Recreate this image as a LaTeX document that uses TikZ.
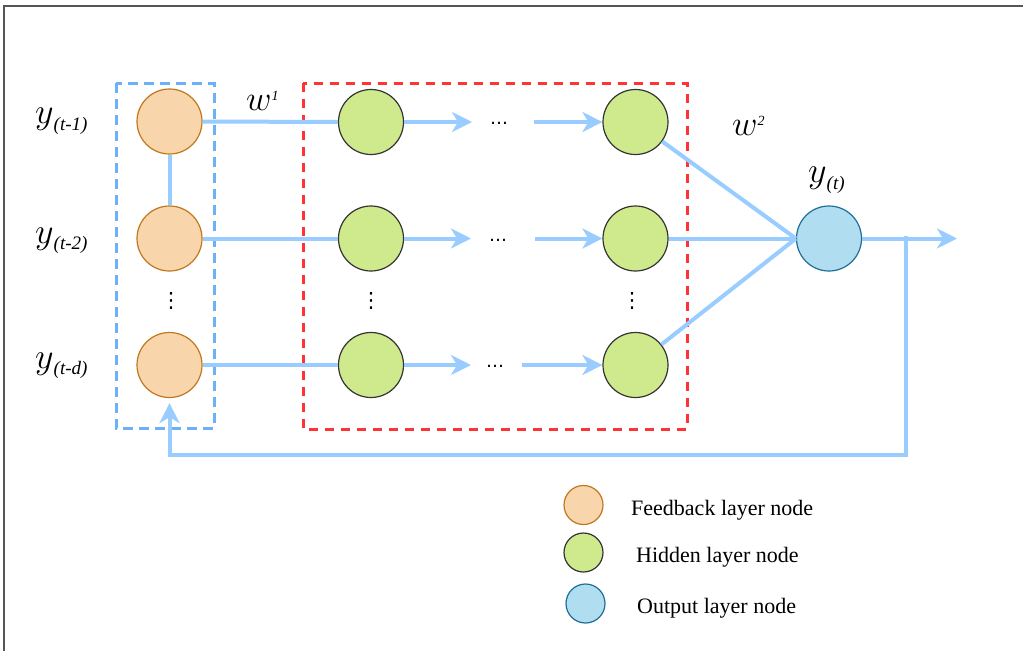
\RequirePackage{fix-cm}
\documentclass[tikz,border=0pt]{standalone}
\usepackage{fontspec}
\setmainfont{Liberation Serif}
\newfontfamily\dejavu{DejaVu Sans}
\usetikzlibrary{arrows.meta}
\definecolor{fbfill}{HTML}{F9D5AC}
\definecolor{fbdraw}{HTML}{C0781E}
\definecolor{hdfill}{HTML}{CFEA8C}
\definecolor{hddraw}{HTML}{333333}
\definecolor{opfill}{HTML}{B1DDF0}
\definecolor{opdraw}{HTML}{1D6E98}
\definecolor{conn}{HTML}{99CCFF}
\definecolor{bluebox}{HTML}{6EB0F7}
\definecolor{redbox}{HTML}{FF3333}
\definecolor{framegray}{HTML}{555555}
\begin{document}
\begin{tikzpicture}[x=1pt,y=-1pt,
  fbnode/.style={circle, minimum size=65pt, inner sep=0pt, fill=fbfill, draw=fbdraw, line width=1.2pt},
  hdnode/.style={circle, minimum size=65pt, inner sep=0pt, fill=hdfill, draw=hddraw, line width=1.2pt},
  opnode/.style={circle, minimum size=65pt, inner sep=0pt, fill=opfill, draw=opdraw, line width=1.2pt},
  fblegend/.style={fbnode, minimum size=39pt},
  hdlegend/.style={hdnode, minimum size=39pt},
  oplegend/.style={opnode, minimum size=39pt},
  conline/.style={draw=conn, line width=4pt},
  arr/.style={conline, -{Stealth[length=20pt,width=20pt,inset=6pt]}},
  bluedash/.style={draw=bluebox, line width=3pt, dash pattern=on 10pt off 6pt},
  reddash/.style={draw=redbox, line width=3pt, dash pattern=on 9pt off 7pt},
  lbl/.style={anchor=base west, inner sep=0pt},
  legtext/.style={anchor=base west, inner sep=0pt, font=\fontsize{22}{26}\selectfont},
  hdots/.style={anchor=base, inner sep=0pt, font=\dejavu\fontsize{18}{20}\selectfont},
  vdotsnode/.style={inner sep=0pt, font=\dejavu\fontsize{21}{24}\selectfont}
]
\useasboundingbox (0,0) rectangle (1023,651);
\fill[white] (0,0) rectangle (1023,651);
\draw[framegray, line width=2pt] (4,651) -- (4,6) -- (1023,6);

% boxes
\draw[bluedash] (116,83) rectangle (214,428);
\draw[reddash] (303,83) rectangle (687,429);

% nodes
\node[fbnode] (f1) at (169.5,121.5) {};
\node[fbnode] (f2) at (169.5,238.5) {};
\node[fbnode] (f3) at (169.5,365) {};
\node[hdnode] (h11) at (371,122) {};
\node[hdnode] (h12) at (371,238.5) {};
\node[hdnode] (h13) at (371,365) {};
\node[hdnode] (h21) at (635.5,122) {};
\node[hdnode] (h22) at (635.5,238.5) {};
\node[hdnode] (h23) at (635.5,365) {};
\node[opnode] (o) at (829,238.5) {};

% dots
\node[vdotsnode] (v1) at (171,301) {⋮};
\node[vdotsnode] (v2) at (371,301) {⋮};
\node[vdotsnode] (v3) at (632,301) {⋮};
\node[hdots] (d1) at (499,124.5) {…};
\node[hdots] (d2) at (498,241) {…};
\node[hdots] (d3) at (495,367.5) {…};

% coordinates
\coordinate (a1) at (472,122);
\coordinate (b1) at (534,122);
\coordinate (a2) at (471,238.5);
\coordinate (b2) at (535,238.5);
\coordinate (a3) at (471,365);
\coordinate (b3) at (522,365);
\coordinate (oa) at (957,238.5);
\coordinate (fb1) at (906,236);
\coordinate (fb2) at (906,455);
\coordinate (fb3) at (169.5,455);

% connectors
\draw[conline] (f1) -- (h11);
\draw[conline] (f2) -- (h12);
\draw[conline] (f3) -- (h13);
\draw[conline] (f1) -- (f2);
\draw[arr] (h11) -- (a1);
\draw[arr] (b1) -- (h21);
\draw[arr] (h12) -- (a2);
\draw[arr] (b2) -- (h22);
\draw[arr] (h13) -- (a3);
\draw[arr] (b3) -- (h23);
\draw[conline] (h21) -- (o.west);
\draw[conline] (h22) -- (o.west);
\draw[conline] (h23) -- (o.west);
\draw[arr] (o) -- (oa);
\draw[arr, shorten >=5pt] (fb1) -- (fb2) -- (fb3) -- (f3);

% labels
\node[lbl] (ly1) at (35,123.5) {\fontsize{36}{40}\selectfont$y$\raisebox{-6.5pt}{\fontsize{19}{22}\selectfont\itshape(t-1)}};
\node[lbl] (ly2) at (35,243) {\fontsize{36}{40}\selectfont$y$\raisebox{-6.5pt}{\fontsize{19}{22}\selectfont\itshape(t-2)}};
\node[lbl] (lyd) at (35,368) {\fontsize{36}{40}\selectfont$y$\raisebox{-6.5pt}{\fontsize{19}{22}\selectfont\itshape(t-d)}};
\node[lbl] (lw1) at (246,110) {\fontsize{35}{40}\selectfont$w$\raisebox{10pt}{\fontsize{14}{18}\selectfont\itshape 1}};
\node[lbl] (lw2) at (732,135) {\fontsize{35}{40}\selectfont$w$\raisebox{10pt}{\fontsize{14}{18}\selectfont\itshape 2}};
\node[lbl] (lyt) at (808,182.5) {\fontsize{36}{40}\selectfont$y$\raisebox{-6.5pt}{\fontsize{19}{22}\selectfont\itshape(t)}};

% legend
\node[fblegend] (lg1) at (583.5,505) {};
\node[hdlegend] (lg2) at (583.5,552.5) {};
\node[oplegend] (lg3) at (585.5,603.5) {};
\node[legtext] (lt1) at (631,515) {Feedback layer node};
\node[legtext] (lt2) at (636,562) {Hidden layer node};
\node[legtext] (lt3) at (637,613) {Output layer node};
\end{tikzpicture}
\end{document}
